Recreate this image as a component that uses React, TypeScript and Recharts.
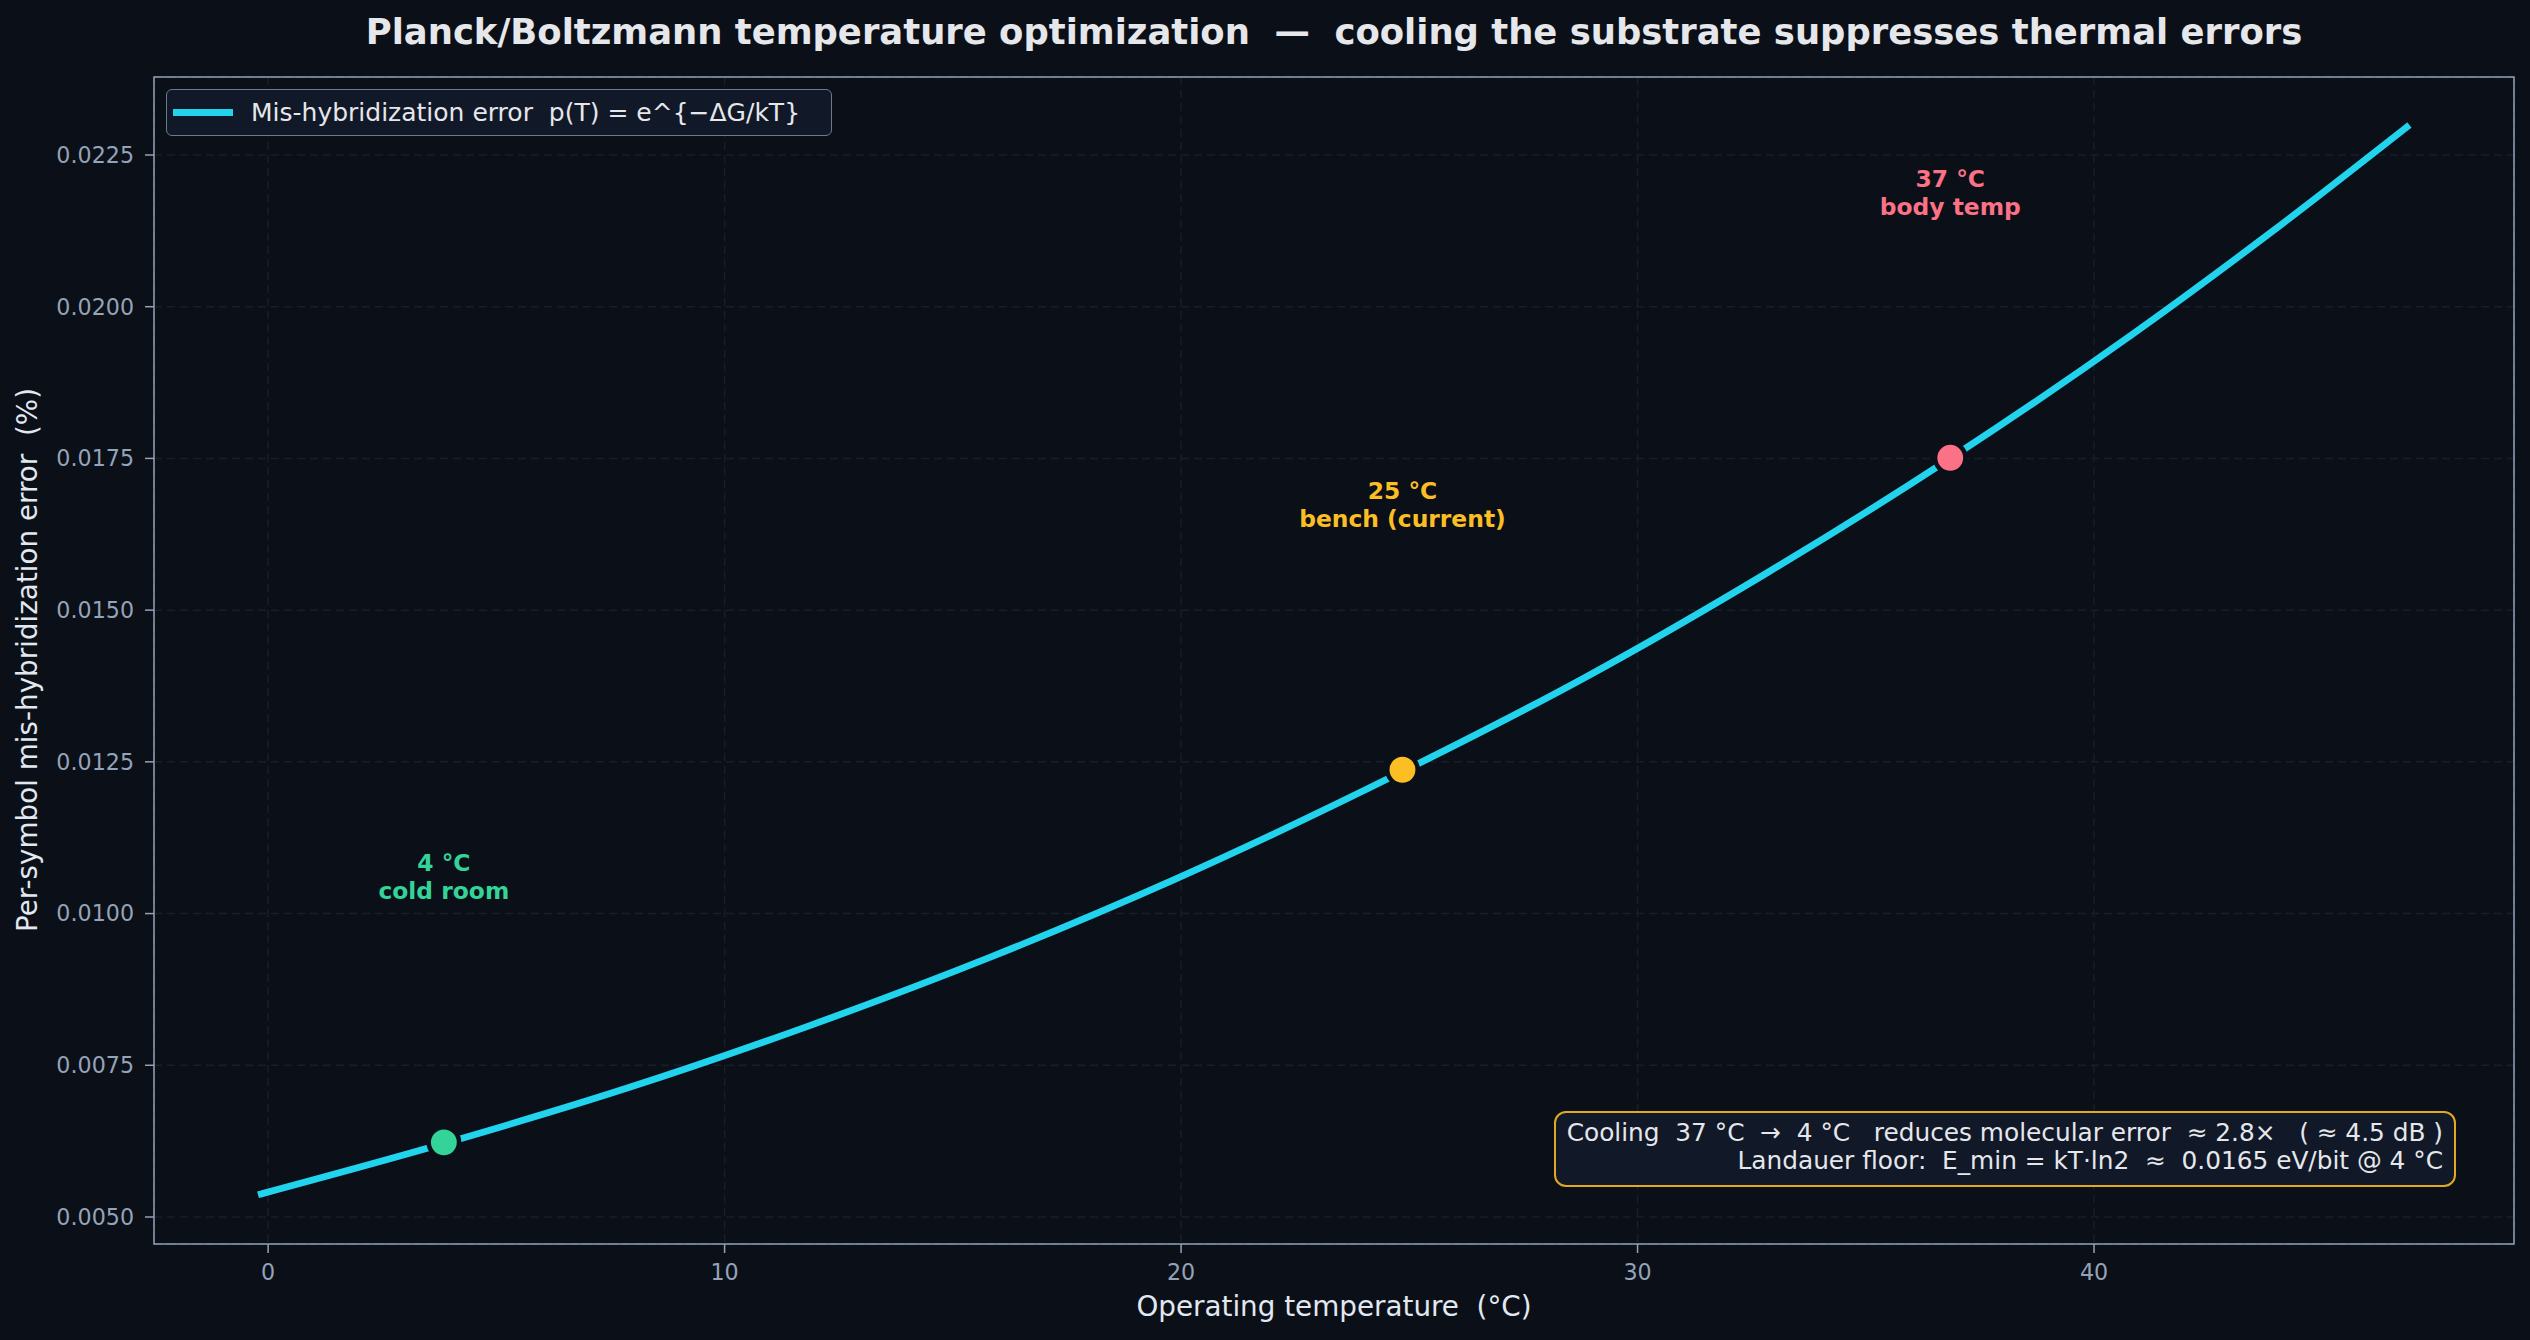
import {
  ComposedChart,
  Line,
  Scatter,
  XAxis,
  YAxis,
  CartesianGrid,
  ReferenceArea,
} from "recharts";

const BG = "#0b0f17";
const CURVE_COLOR = "#22d3ee"; // cyan-400
const SPINE = "#94a3b8";
const FONT = "'DejaVu Sans', sans-serif";

// operating temperature (°C) and per-symbol error
const TEMPS_C = [-0.15, 3.85, 7.85, 11.85, 15.85, 19.85, 24.85, 28.85, 32.85, 36.85, 40.85, 43.85, 46.85];
const ERROR_P = [0.00538, 0.00621, 0.00712, 0.00815, 0.00929, 0.01056, 0.01234, 0.01389, 0.01562, 0.0175, 0.01955, 0.02121, 0.02296];

// highlighted operating points
const MARK_T = [3.85, 24.85, 36.85];
const MARK_P = [0.00623, 0.01237, 0.01751];
const MARK_TEMPS = ["4 °C", "25 °C", "37 °C"];
const MARK_NAMES = ["cold room", "bench (current)", "body temp"];
const MARK_COLORS = ["#34d399", "#fbbf24", "#fb7185"];

const X_TICKS = [0, 10, 20, 30, 40];
const Y_TICKS = [0.005, 0.0075, 0.01, 0.0125, 0.015, 0.0175, 0.02, 0.0225];

const X_DOMAIN = [-2.5, 49.2];
const Y_DOMAIN = [0.004555, 0.023785];

const curveData = TEMPS_C.map((t, i) => ({ t, p: ERROR_P[i] }));
const markData = MARK_T.map((t, i) => ({ t, p: MARK_P[i], i, temp: MARK_TEMPS[i], name: MARK_NAMES[i] }));

function MarkerShape(props: any) {
  const { cx, cy, payload } = props;
  const color = MARK_COLORS[payload.i];
  return (
    <g>
      <circle cx={cx} cy={cy} r={15.2} fill={color} stroke={BG} strokeWidth={4.5} />
      <text x={cx} y={cy - 279} textAnchor="middle" dominantBaseline="central" fill={color} fontSize={23.4} fontWeight="bold" fontFamily={FONT}>
        {payload.temp}
      </text>
      <text x={cx} y={cy - 251} textAnchor="middle" dominantBaseline="central" fill={color} fontSize={23.4} fontWeight="bold" fontFamily={FONT}>
        {payload.name}
      </text>
    </g>
  );
}

function LegendBox() {
  return (
    <div
      style={{
        position: "absolute",
        left: 166,
        top: 89,
        boxSizing: "border-box",
        width: 666,
        height: 47,
        background: "#111827",
        border: "1.5px solid #6b7a90",
        borderRadius: 6,
        display: "flex",
        alignItems: "center",
        fontSize: 25,
        color: "#e5e7eb",
        whiteSpace: "pre",
      }}
    >
      <span style={{ display: "inline-block", width: 60, height: 7, background: CURVE_COLOR, marginLeft: 6, marginRight: 18 }} />
      Mis-hybridization error  p(T) = e^{"{"}−ΔG/kT{"}"}
    </div>
  );
}

export default function App() {
  return (
    <div style={{ position: "absolute", left: 0, top: 0, width: 2530, height: 1340, background: BG, fontFamily: FONT, overflow: "hidden" }}>
      <div
        style={{
          position: "absolute",
          left: 0,
          width: 2668,
          top: 10,
          textAlign: "center",
          fontSize: 35.4,
          fontWeight: "bold",
          color: "#e5e7eb",
          whiteSpace: "pre",
          lineHeight: "44px",
        }}
      >
        Planck/Boltzmann temperature optimization  —  cooling the substrate suppresses thermal errors
      </div>

      <ComposedChart
        width={2530}
        height={1340}
        margin={{ top: 77, right: 16, bottom: 36, left: 34 }}
        style={{ position: "absolute", left: 0, top: 0 }}
      >
        <CartesianGrid stroke="#181e2b" strokeDasharray="8 5" strokeWidth={1.5} />
        <XAxis
          type="number"
          dataKey="t"
          domain={X_DOMAIN}
          allowDataOverflow
          ticks={X_TICKS}
          tick={{ fill: SPINE, fontSize: 22.2, fontFamily: FONT }}
          tickSize={9}
          tickMargin={11}
          tickLine={{ stroke: SPINE, strokeWidth: 1.5 }}
          axisLine={false}
          height={60}
        />
        <YAxis
          type="number"
          domain={Y_DOMAIN}
          allowDataOverflow
          ticks={Y_TICKS}
          tickFormatter={(v: number) => v.toFixed(4)}
          tick={{ fill: SPINE, fontSize: 22.2, fontFamily: FONT }}
          tickSize={9}
          tickMargin={11}
          tickLine={{ stroke: SPINE, strokeWidth: 1.5 }}
          axisLine={false}
          width={120}
        />
        <ReferenceArea
          x1={X_DOMAIN[0]}
          x2={X_DOMAIN[1]}
          y1={Y_DOMAIN[0]}
          y2={Y_DOMAIN[1]}
          fill="none"
          stroke={SPINE}
          strokeWidth={1.5}
          ifOverflow="visible"
        />
        <Line
          data={curveData}
          dataKey="p"
          type="monotone"
          stroke={CURVE_COLOR}
          strokeWidth={6.8}
          strokeLinecap="square"
          dot={false}
          activeDot={false}
          isAnimationActive={false}
          name="Mis-hybridization error"
        />
        <Scatter data={markData} dataKey="p" shape={MarkerShape} isAnimationActive={false} legendType="none" />
      </ComposedChart>

      <LegendBox />

      <div
        style={{
          position: "absolute",
          left: 154,
          width: 2360,
          top: 1290,
          textAlign: "center",
          fontSize: 27.8,
          color: "#e2e8f0",
          whiteSpace: "pre",
          lineHeight: "34px",
        }}
      >
        Operating temperature  (°C)
      </div>

      <div
        style={{
          position: "absolute",
          left: 28 - 400,
          top: 660 - 17,
          width: 800,
          textAlign: "center",
          fontSize: 27.8,
          color: "#e2e8f0",
          whiteSpace: "pre",
          lineHeight: "34px",
          transform: "rotate(-90deg)",
        }}
      >
        Per-symbol mis-hybridization error  (%)
      </div>

      <div
        style={{
          position: "absolute",
          left: 1554,
          top: 1111,
          width: 902,
          height: 76,
          boxSizing: "border-box",
          background: "#111827",
          border: "2px solid #e0a920",
          borderRadius: 12,
          padding: "6px 11px 0 0",
          textAlign: "right",
          fontSize: 24.8,
          lineHeight: "28px",
          color: "#e5e7eb",
          whiteSpace: "pre",
        }}
      >
        <div>Cooling  37 °C  →  4 °C   reduces molecular error  ≈ 2.8×   ( ≈ 4.5 dB )</div>
        <div>Landauer floor:  E_min = kT·ln2  ≈  0.0165 eV/bit @ 4 °C</div>
      </div>
    </div>
  );
}
